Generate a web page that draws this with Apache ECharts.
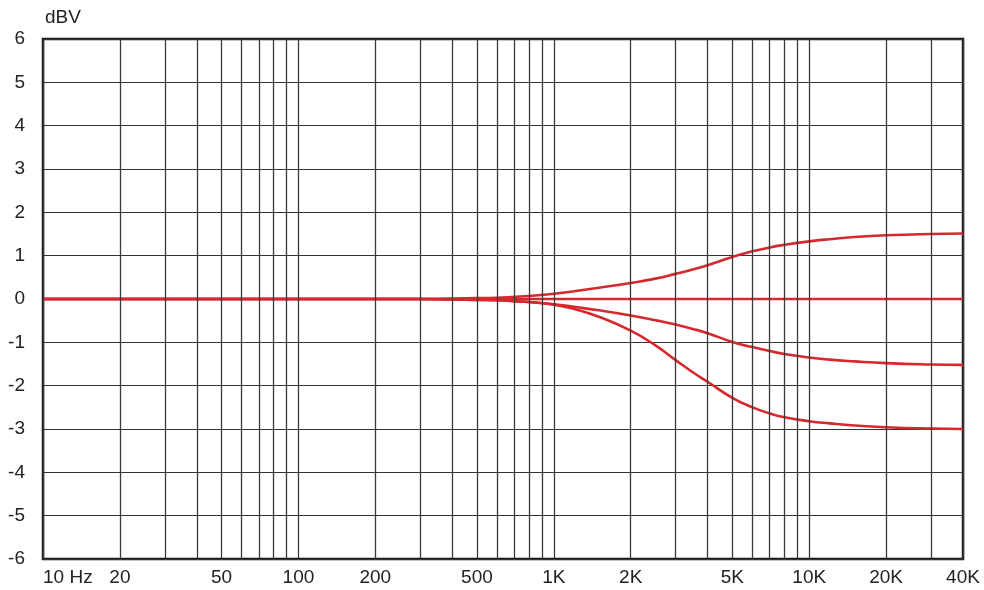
<!DOCTYPE html>
<html style="height: 100%">
<head>
    <meta charset="utf-8">
    <script src="https://cdn.jsdelivr.net/npm/echarts@6/dist/echarts.min.js"></script>
</head>
<body style="height: 100%; margin: 0; background: #fff">
<div id="container" style="width: 984px; height: 590px"></div>

<script type="text/javascript">
    // frequency points (Hz) the curves are sampled at
    var freqs = [10, 100, 200, 300, 400, 500, 600, 700, 800, 1000, 1200, 1500, 2000, 2500, 3000, 3500, 4000, 5000, 6000, 7000, 8000, 10000, 12000, 15000, 20000, 30000, 40000];
    // response curves, dBV
    var flat  = [0, 0, 0, 0, 0, 0, 0, 0, 0, 0, 0, 0, 0, 0, 0, 0, 0, 0, 0, 0, 0, 0, 0, 0, 0, 0, 0];
    var boost = [0, 0, 0, 0, 0.01, 0.02, 0.03, 0.05, 0.07, 0.12, 0.18, 0.26, 0.37, 0.47, 0.58, 0.68, 0.78, 0.97, 1.1, 1.19, 1.25, 1.33, 1.38, 1.43, 1.47, 1.5, 1.51];
    var cut   = [0, 0, 0, 0, -0.01, -0.02, -0.03, -0.05, -0.07, -0.12, -0.18, -0.26, -0.38, -0.49, -0.59, -0.69, -0.79, -0.99, -1.11, -1.2, -1.27, -1.35, -1.4, -1.44, -1.48, -1.51, -1.52];
    var deep  = [0, 0, 0, 0, -0.01, -0.02, -0.03, -0.05, -0.07, -0.13, -0.23, -0.41, -0.73, -1.07, -1.41, -1.69, -1.91, -2.28, -2.5, -2.64, -2.73, -2.82, -2.87, -2.92, -2.96, -2.99, -3.0];

    // vertical grid lines and the ones that carry a label
    var gridFreqs = [10, 20, 30, 40, 50, 60, 70, 80, 90, 100, 200, 300, 400, 500, 600, 700, 800, 900,
        1000, 2000, 3000, 4000, 5000, 6000, 7000, 8000, 9000, 10000, 20000, 30000, 40000];
    var tickLabels = {10: '10 Hz', 20: '20', 50: '50', 100: '100', 200: '200', 500: '500',
        1000: '1K', 2000: '2K', 5000: '5K', 10000: '10K', 20000: '20K', 40000: '40K'};

    var FONT = "'Liberation Sans', Arial, sans-serif";
    var RED = '#d6282e';

    function pairs(ys) {
        return freqs.map(function (f, i) { return [f, ys[i]]; });
    }

    var gridLineData = gridFreqs.map(function (f) {
        var item = { xAxis: f };
        if (tickLabels[f]) {
            item.label = {
                show: true,
                formatter: tickLabels[f],
                align: f === 10 ? 'left' : 'center'
            };
        }
        return item;
    });

    var dom = document.getElementById('container');
    var myChart = echarts.init(dom, null, { renderer: 'canvas' });

    function curve(name, ys) {
        return {
            name: name,
            type: 'line',
            z: 3,
            smooth: 0.5,
            data: pairs(ys),
            showSymbol: false,
            lineStyle: { color: RED, width: 2.6 }
        };
    }

    var option = {
        animation: false,
        grid: {
            left: 43,
            right: 21,
            top: 39,
            bottom: 31,
            show: true,
            borderColor: '#1a1a1a',
            borderWidth: 2.5,
            backgroundColor: '#fff'
        },
        xAxis: {
            type: 'log',
            logBase: 10,
            min: 10,
            max: 40000,
            axisLine: { show: false },
            axisTick: { show: false },
            axisLabel: { show: false },
            splitLine: { show: false }
        },
        yAxis: {
            type: 'value',
            min: -6,
            max: 6,
            interval: 1,
            name: 'dBV',
            nameLocation: 'end',
            nameGap: 21,
            nameTextStyle: {
                fontFamily: FONT,
                fontSize: 19,
                color: '#222',
                align: 'left',
                verticalAlign: 'middle',
                padding: [0, 0, 0, 2]
            },
            axisLine: { show: false },
            axisTick: { show: false },
            axisLabel: {
                margin: 18,
                fontFamily: FONT,
                fontSize: 19,
                color: '#222'
            },
            splitLine: {
                lineStyle: { color: '#333', width: 1.2 }
            }
        },
        series: [
            {
                name: 'grid',
                type: 'line',
                data: [],
                z: 1,
                markLine: {
                    silent: true,
                    symbol: ['none', 'none'],
                    animation: false,
                    lineStyle: { color: '#3a3a3a', width: 1.3, type: 'solid' },
                    label: {
                        show: false,
                        position: 'start',
                        distance: 9,
                        fontFamily: FONT,
                        fontSize: 19,
                        color: '#222'
                    },
                    emphasis: { disabled: true },
                    data: gridLineData
                }
            },
            { name: 'flat', type: 'line', z: 3, data: pairs(flat), showSymbol: false, lineStyle: { color: RED, width: 2.6 } },
            curve('boost', boost),
            curve('cut', cut),
            curve('deep', deep)
        ]
    };

    if (option && typeof option === 'object') {
        myChart.setOption(option);
    }
</script>
</body>
</html>
